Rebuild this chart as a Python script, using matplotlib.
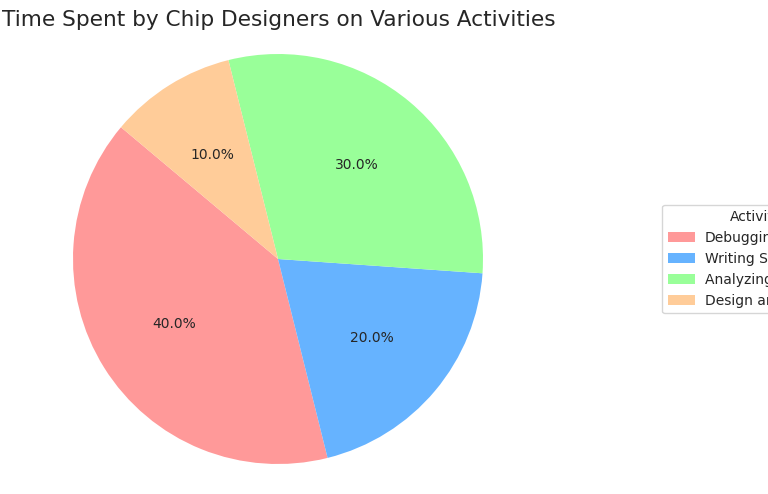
import matplotlib
matplotlib.use("Agg")
import matplotlib.pyplot as plt

# data
activities = ["Debugging", "Writing Specifications", "Analyzing Results", "Design and Planning"]
shares = [40, 20, 30, 10]
colors = ["#ff9999", "#66b3ff", "#99ff99", "#ffcc99"]

text_color = "#262626"

fig = plt.figure(figsize=(7.68, 4.94), dpi=100)

# pie centred at (278, 259) px, radius ~205 px
ax = fig.add_axes([73 / 768, 30 / 494, 410 / 768, 410 / 494])
wedges, texts, autotexts = ax.pie(shares, colors=colors, autopct="%1.1f%%",
                                  startangle=140, pctdistance=0.6,
                                  textprops={"fontsize": 10, "color": text_color})
ax.set_xlim(-1, 1)
ax.set_ylim(-1, 1)
ax.set_aspect("equal")

fig.text(279 / 768, 1 - 26 / 494, "Time Spent by Chip Designers on Various Activities",
         ha="center", va="baseline", fontsize=15.6, color=text_color)

leg = fig.legend(wedges, activities, title="Activities", loc="center left",
                 bbox_to_anchor=(662 / 768, 1 - 259 / 494), borderaxespad=0,
                 fontsize=10, title_fontsize=10, handletextpad=0.7)
for t in leg.get_texts():
    t.set_color(text_color)
leg.get_title().set_color(text_color)

fig.savefig("out.png", dpi=100)
